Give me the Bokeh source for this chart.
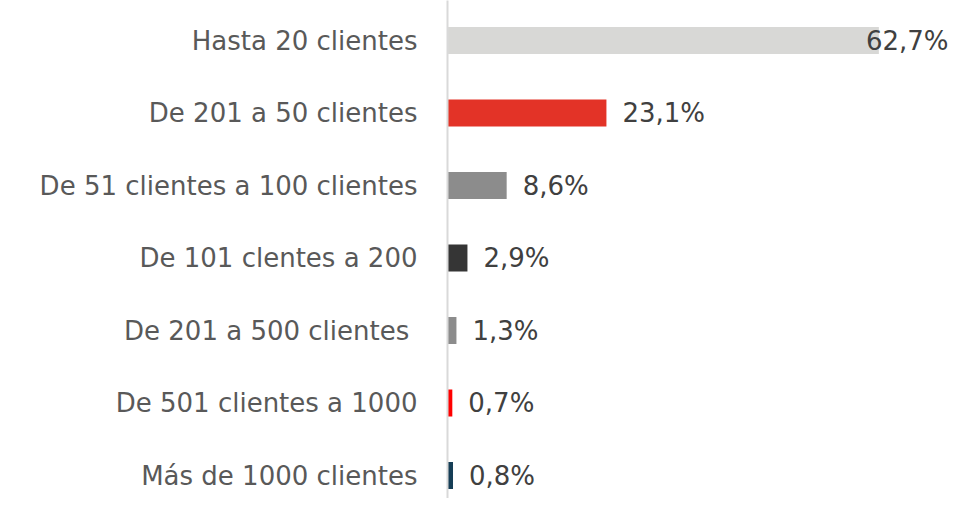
import numpy as np
from bokeh.plotting import figure
from bokeh.models import ColumnDataSource, Range1d, FixedTicker
from bokeh.core.properties import value
from bokeh.embed import file_html
from bokeh.resources import INLINE

categories = [
    "Hasta 20 clientes",
    "De 201 a 50 clientes",
    "De 51 clientes a 100 clientes",
    "De 101 clentes a 200",
    "De 201 a 500 clientes ",
    "De 501 clientes a 1000",
    "Más de 1000 clientes",
]
values = [62.7, 23.1, 8.6, 2.9, 1.3, 0.7, 0.8]
colors = ["#d8d8d6", "#e33327", "#8c8c8c", "#353535", "#8c8c8c", "#ff0000", "#163e56"]

labels = [f"{v:.1f}".replace(".", ",") + "%" for v in values]
ypos = list(range(len(categories)))
# label offsets (pixels): first label sits over bar end like the original
xoff = [-13] + [16] * (len(values) - 1)

src = ColumnDataSource(dict(y=ypos, v=values, c=colors, lab=labels, xo=xoff))

FONT = "DejaVu Sans"
W, H = 963, 498
left = 447
px_per_unit = 6.88
row_px = 72.5
first_row = 40
p = figure(width=W, height=H, output_backend="svg", toolbar_location=None,
           x_range=Range1d(0, (W - left) / px_per_unit),
           y_range=Range1d((H - first_row) / row_px, -first_row / row_px),
           min_border_left=left, min_border_right=0, min_border_top=0, min_border_bottom=0)
p.outline_line_color = None
p.xgrid.visible = False
p.ygrid.visible = False
p.xaxis.visible = False
p.background_fill_color = "white"
p.border_fill_color = "white"

p.hbar(y="y", right="v", left=0, height=27 / row_px, color="c", source=src, line_color=None)
p.text(x="v", y="y", text="lab", x_offset="xo", source=src,
       text_font=value(FONT), text_font_size="26px", text_color="#404040",
       text_baseline="middle", text_align="left")

ax = p.yaxis[0]
ax.ticker = FixedTicker(ticks=ypos)
ax.major_label_overrides = {i: c for i, c in zip(ypos, categories)}
ax.major_label_text_font = FONT
ax.major_label_text_font_size = "26px"
ax.major_label_text_color = "#595959"
ax.major_tick_line_color = None
ax.minor_tick_line_color = None
ax.major_tick_out = 0
ax.major_tick_in = 0
ax.major_label_standoff = 30
ax.axis_line_color = "#d9d9d9"
ax.axis_line_width = 2

open("out.html", "w").write(file_html(p, INLINE))
